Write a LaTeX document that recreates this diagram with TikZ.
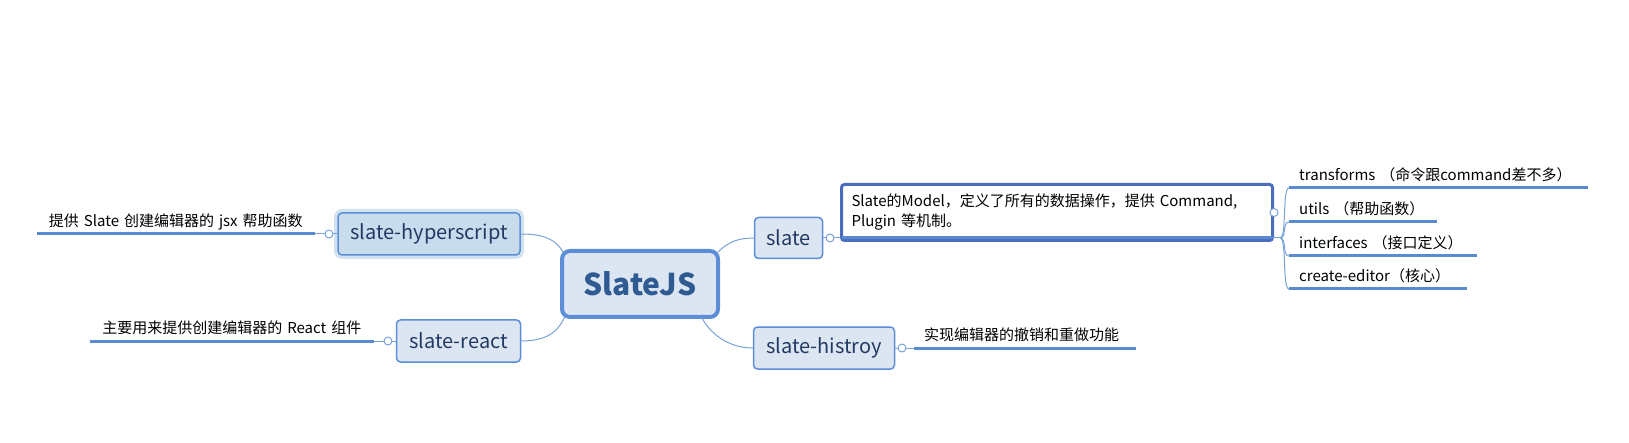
\documentclass[tikz,border=0pt]{standalone}
\usepackage{fontspec}
\setmainfont{Noto Sans CJK SC}
\usetikzlibrary{positioning}
\definecolor{topicblue}{HTML}{DCE6F2}
\definecolor{selblue}{HTML}{C9DCEE}
\definecolor{glowblue}{HTML}{D3E2F0}
\definecolor{edgeblue}{HTML}{5B8ED6}
\definecolor{selframe}{HTML}{4A6DBF}
\definecolor{inkblue}{HTML}{223A63}
\definecolor{rootink}{HTML}{2F5A92}
\definecolor{lineblue}{HTML}{5A8AD2}
\definecolor{wireblue}{HTML}{7AA2DA}

\begin{document}
\begin{tikzpicture}[x=1pt,y=-1pt,
    topic/.style={draw=edgeblue, fill=topicblue, line width=1.5pt, rounded corners=4pt,
                  text=inkblue, font=\fontsize{20}{24}\selectfont, inner sep=0pt},
    central/.style={topic, line width=4pt, rounded corners=8pt, text=rootink, font=\fontsize{30}{36}\selectfont\bfseries},
    note/.style={inner xsep=10pt, inner ysep=4pt, text depth=3pt, font=\fontsize{15}{20}\selectfont},
    underline/.style={draw=lineblue, line width=3pt},
    wire/.style={draw=wireblue, line width=1pt},
    knob/.style={circle, draw=wireblue, fill=white, line width=1pt, minimum size=8pt, inner sep=0pt}]

\useasboundingbox (0,0) rectangle (1629,443);

% main topics
\node[central, minimum width=156pt, minimum height=66pt] (root) at (640,284) {SlateJS};
\node[topic, fill=selblue, preaction={draw=glowblue, line width=8pt},
      minimum width=182pt, minimum height=42pt] (hyp) at (429,234) {slate-hyperscript};
\node[topic, minimum width=124pt, minimum height=42pt] (react) at (458.5,341) {slate-react};
\node[topic, minimum width=68pt, minimum height=41pt] (slate) at (788.5,238) {slate};
\node[topic, minimum width=141pt, minimum height=42pt] (histroy) at (824,348) {slate-histroy};

\draw[wire] (hyp.east) .. controls (545,234) and (556,240) .. ([shift={(3,3)}]root.north west);
\draw[wire] (react.east) .. controls (545,341) and (558,333) .. ([shift={(5,-3)}]root.south west);
\draw[wire] ([shift={(-2,3)}]root.north east) .. controls (729,241) and (740,238) .. (slate.west);
\draw[wire] ([shift={(-18,-1)}]root.south east) .. controls (713,338) and (733,348) .. (histroy.west);

% notes on the left
\node[note, anchor=south east, text width=258pt, align=center] (hypnote) at (315,234)
     {提供 Slate 创建编辑器的 jsx 帮助函数};
\node[note, anchor=south east, text width=264pt, align=center] (reactnote) at (374,341)
     {主要用来提供创建编辑器的 React 组件};
\draw[underline] (hypnote.south west) -- (hypnote.south east);
\draw[underline] (reactnote.south west) -- (reactnote.south east);
\draw[wire] (hypnote.south east) -- (hyp.west);
\draw[wire] (reactnote.south east) -- (react.west);
\node[knob] (hypknob) at (329,234) {};
\node[knob] (reactknob) at (388,341) {};

% note of slate-histroy
\node[note, anchor=south west, text width=202pt, align=left] (histroynote) at (914,348)
     {实现编辑器的撤销和重做功能};
\draw[underline] (histroynote.south west) -- (histroynote.south east);
\draw[wire] (histroy.east) -- (histroynote.south west);
\node[knob] (histroyknob) at (902,348) {};

% selected note of slate
\node[draw=selframe, line width=3pt, rounded corners=3pt, minimum width=431pt, minimum height=56pt,
      inner xsep=10pt, text width=411pt, align=left, font=\fontsize{15}{20}\selectfont] (desc) at (1057,212.5)
     {Slate的Model，定义了所有的数据操作，提供 Command,\\Plugin 等机制。};
\draw[wire] (slate.east) -- (desc.west |- slate.east);
\draw[underline] ([xshift=2pt]desc.west |- slate.east) -- ([xshift=-2pt]desc.east |- slate.east);
\node[knob] (slateknob) at (830,238) {};
\node[knob] (descknob) at (desc.east) {};
\coordinate (fork) at ([xshift=6pt]desc.east |- slate.east);
\draw[wire] ([xshift=-2pt]desc.east |- slate.east) -- (fork);

% sub topics of the note
\node[note, anchor=south west, text width=279pt, align=left] (transforms) at (1289,188)
     {transforms （命令跟command差不多）};
\node[note, anchor=south west, text width=128pt, align=left] (utils) at (1289,222)
     {utils （帮助函数）};
\node[note, anchor=south west, text width=168pt, align=left] (interfaces) at (1289,256)
     {interfaces （接口定义）};
\node[note, anchor=south west, text width=158pt, align=left] (createeditor) at (1289,289)
     {create-editor（核心）};
\foreach \n in {transforms,utils,interfaces,createeditor}{
  \draw[underline] (\n.south west) -- (\n.south east);
  \draw[wire] (fork) .. controls +(7,0) and +(-7,0) .. (\n.south west);
}

\end{tikzpicture}
\end{document}
